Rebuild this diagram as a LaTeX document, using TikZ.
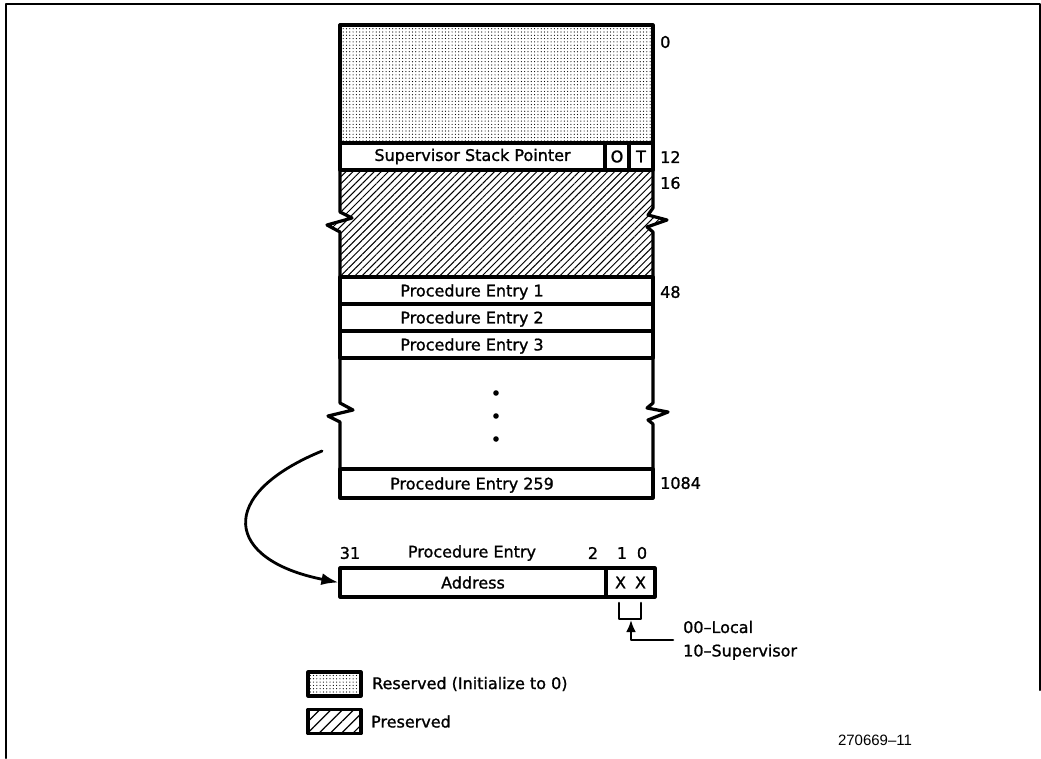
\documentclass[tikz,border=0pt]{standalone}
\usepackage{fontspec}
\setmainfont{DejaVu Sans}[FakeBold=1.2]
\newfontfamily\figidfont{Liberation Sans}
\usetikzlibrary{positioning,arrows.meta,patterns.meta}
\tikzset{
  cellbox/.style={draw, line width=3.2pt, fill=white, inner sep=0pt},
  rowbox/.style={cellbox, minimum width=313pt, minimum height=27pt},
  offset/.style={anchor=west, inner sep=0pt},
  legbox/.style={draw, line width=3.2pt, minimum width=53pt, minimum height=24pt, inner sep=0pt},
  stipple/.style={pattern={Dots[distance=3.3pt, radius=0.6pt]}},
  hatch/.style={pattern={Lines[angle=45, distance=5pt, line width=1pt]}},
}
\begin{document}
\begin{tikzpicture}[x=1pt, y=-1pt, >={Latex[length=17pt,width=12pt]}, font=\fontsize{16}{19}\selectfont, line join=round, line cap=round]
\useasboundingbox (0,0) rectangle (1041,758);
% frame
\draw[line width=2pt] (6,758) -- (6,4) -- (1040,4) -- (1040,690);

% preserved block with breaks
\draw[line width=3.2pt, hatch] (340,170) -- (653,170) -- (653,208) -- (648,215) -- (667,220)
  -- (647,227) -- (653,232) -- (653,277) -- (340,277) -- (340,232) -- (327,225)
  -- (352,218) -- (340,212) -- cycle;

% reserved block and supervisor row
\node[rowbox, stipple, minimum height=118pt] (rsvtop) at (496.5,84) {};
\node[cellbox, minimum width=265pt, minimum height=27pt] (ssp) at (472.5,156.5) {Supervisor Stack Pointer};
\node[cellbox, minimum width=24pt, minimum height=27pt] (obit) at (617,156.5) {O};
\node[cellbox, minimum width=24pt, minimum height=27pt] (tbit) at (641,156.5) {T};

% procedure entries
\foreach \n/\y in {1/290.5,2/317.5,3/344.5}{
  \node[rowbox, label={[xshift=-24.5pt,yshift=-1.5pt]center:Procedure Entry \n}] (entry\n) at (496.5,\y) {};
}
\draw[line width=3.2pt] (340,358) -- (340,403) -- (353,410) -- (328,416) -- (340,422) -- (340,469);
\draw[line width=3.2pt] (653,358) -- (653,403) -- (647,408) -- (668,412) -- (648,420) -- (653,424) -- (653,469);
\foreach \y in {393,416,439}{
  \fill (496,\y) circle (2.8pt);
}
\node[rowbox, minimum height=29pt, label={[xshift=-24.5pt,yshift=-1.5pt]center:Procedure Entry 259}] (entry259) at (496.5,483.5) {};

% byte offsets
\node[offset] (off0) at (660,42) {0};
\node[offset] (off12) at (660,157) {12};
\node[offset] (off16) at (660,183) {16};
\node[offset] (off48) at (660,292) {48};
\node[offset] (off1084) at (660,483) {1084};

% entry format
\node (b31) at (350,553) {31};
\node (fmt) at (472,553) {Procedure Entry};
\node (b2) at (593,553) {2};
\node (b1) at (622,553) {1};
\node (b0) at (642,553) {0};
\node[cellbox, minimum width=266pt, minimum height=29pt] (addr) at (473,582.5) {Address};
\node[cellbox, minimum width=49pt, minimum height=29pt] (bits) at (630.5,582.5) {X\hspace{9pt}X};

\coordinate (src) at (322,451);
\draw[line width=2.8pt, ->] (src) .. controls (215,495) and (225,560) .. (addr.west);

\draw[line width=2.6pt] (619,603) |- (641,619) -- (641,603);
\coordinate (brk) at (631,620);
\coordinate (lead) at (673,640);
\draw[line width=2.6pt, ->, >={Latex[length=12pt,width=10pt]}] (lead) -| (brk);
\node[anchor=west, inner sep=0pt] (local) at (683,627) {00–Local};
\node[anchor=west, inner sep=0pt] (superv) at (683,652) {10–Supervisor};

% legend
\node[legbox, stipple] (legrsv) at (334.5,684) {};
\node[right=6pt of legrsv] (legrsvtxt) {Reserved (Initialize to 0)};
\node[legbox, pattern={Lines[angle=45, distance=8pt, line width=1.2pt]}] (legprs) at (334.5,721.5) {};
\node[right=6pt of legprs] (legprstxt) {Preserved};

\node (figid) at (875,740) {\figidfont\fontsize{15}{18}\selectfont 270669–11};
\end{tikzpicture}
\end{document}
